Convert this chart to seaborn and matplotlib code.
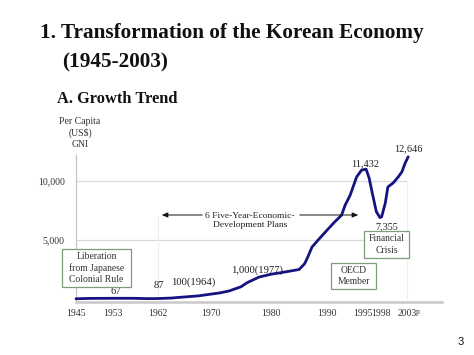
import numpy as np
import matplotlib
matplotlib.use("Agg")
import matplotlib.pyplot as plt
import seaborn as sns
import pandas as pd

# ---- data ----
years = [1945, 1948, 1953, 1957, 1960, 1962, 1964, 1965, 1968, 1971.5,
         1973, 1975, 1976, 1978, 1980, 1982, 1985, 1986, 1986.5, 1987.3,
         1988.4, 1990, 1991, 1992, 1992.5, 1993.2, 1994.1, 1994.8, 1995.5, 1996,
         1996.6, 1997.2, 1997.8, 1998.1, 1998.8, 1999.3, 2000.3, 2001.3, 2002, 2002.6,
         2003.2]
gni = [20, 50, 60, 60, 30, 40, 80, 130, 260, 520,
       680, 1040, 1380, 1860, 2100, 2250, 2500, 3000, 3500, 4400,
       5000, 5840, 6500, 7100, 7950, 8800, 10350, 10930, 11000, 10250,
       8800, 7400, 6900, 6970, 8130, 9500, 9830, 10350, 10780, 11500,
       12050]
tick_years = [1945, 1953, 1962, 1970, 1980, 1990, 1995, 1998, 2003]
tick_labels = ["1945", "1953", "1962", "1970", "1980", "1990", "1995", "1998", "2003"]
y_ticks = [5000, 10000]
y_tick_labels = ["5,000", "10,000"]

df = pd.DataFrame({"year": years, "gni": gni})

# ---- style ----
sns.set_style("white")
plt.rcParams["font.family"] = ["Liberation Serif", "DejaVu Serif"]

W, H = 474, 355
fig = plt.figure(figsize=(W / 100, H / 100), dpi=100)

def fx(px):
    return px / W

def fy(py):
    return 1 - py / H

ax = fig.add_axes([fx(76), fy(301.5), fx(442) - fx(76), fy(155) - fy(301.5)])

# non-uniform year axis as drawn on the slide (piecewise-linear scale)
scale_years = np.array([1935, 1945, 1953, 1962, 1970, 1980, 1990, 1995, 1998, 2003, 2013], float)
scale_pos = np.array([30, 76, 113, 158, 211, 271, 327, 363, 381, 407, 459], float)

def fwd(x):
    return np.interp(x, scale_years, scale_pos)

def inv(p):
    return np.interp(p, scale_pos, scale_years)

ax.set_xscale("function", functions=(fwd, inv))

# grid lines (only up to 2003)
ax.hlines(y_ticks, 1945, 2003, color="#d9d9d9", lw=0.9, zorder=0)
ax.vlines([1962], 0, 7000, color="#eeeeee", lw=0.8, zorder=0)
ax.vlines([2003], 0, 10000, color="#eeeeee", lw=0.8, zorder=0)

sns.lineplot(data=df, x="year", y="gni", ax=ax, color="#14137f", linewidth=2.0,
             clip_on=False, zorder=3)

ax.set_xlim(1945, 2009.7)
ax.set_ylim(-212, 12203)
ax.set_xlabel("")
ax.set_ylabel("")
ax.set_xticks(tick_years)
ax.set_xticklabels(tick_labels)
ax.set_yticks(y_ticks)
ax.set_yticklabels(y_tick_labels)
ax.tick_params(axis="x", labelsize=7, colors="#bbbbbb", labelcolor="#333333",
               length=3, width=0.6, pad=2.5, direction="out")
ax.tick_params(axis="y", labelsize=7, labelcolor="#333333", length=0, pad=8)
for s in ["top", "right"]:
    ax.spines[s].set_visible(False)
ax.spines["left"].set_color("#c4c4c4")
ax.spines["left"].set_linewidth(0.9)
ax.spines["bottom"].set_color("#c8c8c8")
ax.spines["bottom"].set_linewidth(1.8)
ax.patch.set_alpha(0)

# ---- titles ----
fig.text(fx(40), fy(33), "1. Transformation of the Korean Economy", fontsize=15.3,
         fontweight="bold", ha="left", va="center", color="#111111")
fig.text(fx(62), fy(62), "(1945-2003)", fontsize=15.3, fontweight="bold",
         ha="left", va="center", color="#111111")
fig.text(fx(57), fy(99), "A. Growth Trend", fontsize=11.8, fontweight="bold",
         ha="left", va="center", color="#111111")
fig.text(fx(80), fy(133), "Per Capita\n(US$)\nGNI", fontsize=7, ha="center",
         va="center", color="#333333", linespacing=1.3)

# small "p" after 2003
fig.text(fx(415.5), fy(312.5), "p", fontsize=5.5, ha="left", va="center", color="#333333")

# ---- annotations ----
ann = dict(ha="center", va="center", color="#222222")
fig.text(fx(116), fy(291), "67", fontsize=7.7, **ann)
fig.text(fx(159), fy(286), "87", fontsize=7.7, **ann)
fig.text(fx(193), fy(282.5), "100(1964)", fontsize=7.7, **ann)
fig.text(fx(257), fy(270), "1,000(1977)", fontsize=7.7, **ann)
fig.text(fx(365), fy(164), "11,432", fontsize=7.4, **ann)
fig.text(fx(408), fy(149), "12,646", fontsize=7.4, **ann)
fig.text(fx(387), fy(227), "7,355", fontsize=7.4, **ann)

fig.text(fx(250), fy(220.5), "6 Five-Year-Economic-\nDevelopment Plans", fontsize=6.8,
         ha="center", va="center", color="#222222", linespacing=1.3)
arrow = dict(arrowstyle="-|>,head_length=0.35,head_width=0.15", color="#111111", lw=0.7)
fig.add_artist(matplotlib.patches.FancyArrowPatch((fx(205), fy(215)), (fx(159), fy(215)),
               transform=fig.transFigure, mutation_scale=10, **arrow))
fig.add_artist(matplotlib.patches.FancyArrowPatch((fx(297), fy(215)), (fx(361), fy(215)),
               transform=fig.transFigure, mutation_scale=10, **arrow))

def boxed(x0, y0, x1, y1, text, fs):
    rect = matplotlib.patches.Rectangle((fx(x0), fy(y1)), fx(x1) - fx(x0), fy(y0) - fy(y1),
                                        transform=fig.transFigure, facecolor="white",
                                        edgecolor="#7c9c7c", lw=0.9, zorder=5)
    fig.add_artist(rect)
    fig.text(fx((x0 + x1) / 2), fy((y0 + y1) / 2), text, fontsize=fs, ha="center",
             va="center", color="#333333", linespacing=1.3, zorder=6)

boxed(62, 249, 131, 287, "Liberation\nfrom Japanese\nColonial Rule", 6.9)
boxed(364, 231, 409, 258, "Financial\nCrisis", 6.9)
boxed(331, 263, 376, 289, "OECD\nMember", 6.9)

fig.text(fx(461), fy(342), "3", fontsize=8, ha="center", va="center",
         family=["Liberation Sans", "DejaVu Sans"], color="#111111")

fig.savefig("out.png", dpi=100)
